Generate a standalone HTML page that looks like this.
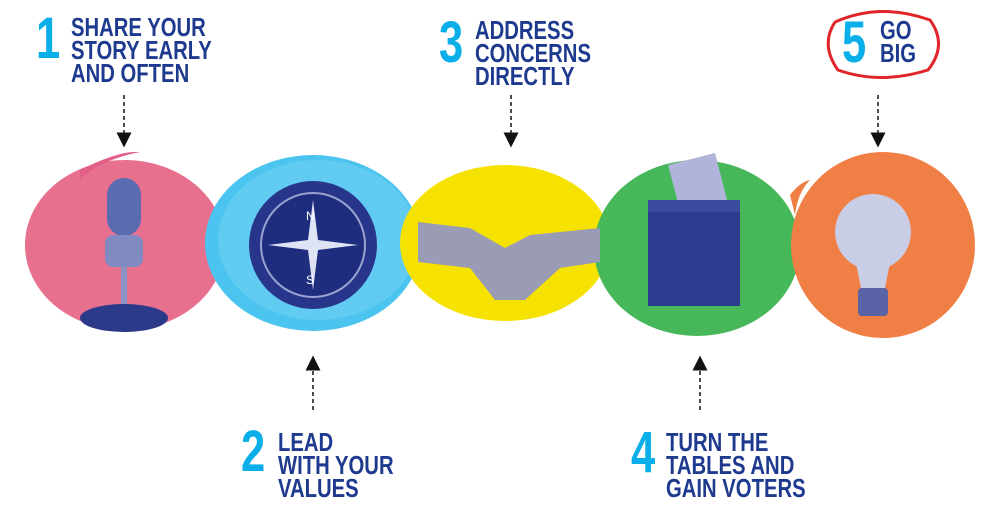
<!DOCTYPE html>
<html><head><meta charset="utf-8"><style>
body{margin:0;background:#fff;width:1004px;height:511px;overflow:hidden}
svg{display:block}
.t{font-family:"Liberation Sans",sans-serif;font-weight:bold;fill:#1e3a8f;font-size:26px}
.n{font-family:"Liberation Sans",sans-serif;font-weight:bold;fill:#0aaee8;font-size:58px}
</style></head><body>
<svg width="1004" height="511" viewBox="0 0 1004 511">
<defs><marker id="a" markerWidth="10" markerHeight="10" refX="5" refY="5" orient="auto"><path d="M0,0L10,5L0,10z" fill="#111"/></marker></defs>
<ellipse cx="125" cy="245" rx="100" ry="85" fill="#e8708f"/>
<path d="M80,170 Q120,150 140,152 Q100,160 80,180z" fill="#e25f86"/>
<ellipse cx="313" cy="243" rx="108" ry="88" fill="#4cc4f0"/>
<ellipse cx="318" cy="240" rx="100" ry="80" fill="#6fd0f4" opacity=".6"/>
<ellipse cx="505" cy="243" rx="105" ry="78" fill="#f6e200"/>
<ellipse cx="697" cy="248" rx="103" ry="88" fill="#46b85a"/>
<ellipse cx="883" cy="245" rx="92" ry="93" fill="#f07f45"/>
<path d="M790,195 Q800,182 810,180 Q798,192 795,215z" fill="#f07f45"/>
<rect x="107" y="178" width="34" height="58" rx="17" fill="#5a6bb0"/>
<rect x="105" y="235" width="38" height="32" rx="8" fill="#7f8ac0"/>
<rect x="121" y="267" width="6" height="40" fill="#8a93c4"/>
<ellipse cx="124" cy="318" rx="44" ry="14" fill="#2c3a8a"/>
<circle cx="313" cy="245" r="64" fill="#27358a"/>
<circle cx="313" cy="245" r="52" fill="#1e2d7e" stroke="#9aa3d0" stroke-width="2"/>
<path d="M313,200 L318,240 L358,245 L318,250 L313,290 L308,250 L268,245 L308,240z" fill="#dfe4f4"/>
<text x="306" y="220" fill="#fff" font-family="Liberation Sans" font-size="12">N</text>
<text x="306" y="284" fill="#fff" font-family="Liberation Sans" font-size="12">S</text>
<path d="M418,222 L470,228 L505,248 L530,235 L600,228 L600,262 L560,268 L525,300 L495,300 L470,268 L418,262z" fill="#9a9cb5"/>
<path d="M668,165 L715,153 L727,200 L680,210z" fill="#b0b4da"/>
<rect x="648" y="208" width="92" height="98" fill="#2e3c8f"/>
<rect x="648" y="200" width="92" height="12" fill="#3a4a9c"/>
<circle cx="873" cy="232" r="38" fill="#c9cde6"/>
<path d="M855,258 L891,258 L885,288 L861,288z" fill="#c9cde6"/>
<rect x="858" y="288" width="30" height="28" rx="4" fill="#5a63a8"/>
<g stroke="#111" stroke-width="1.5" stroke-dasharray="4,3" fill="none">
<line x1="124" y1="95" x2="124" y2="140" marker-end="url(#a)"/>
<line x1="511" y1="95" x2="511" y2="140" marker-end="url(#a)"/>
<line x1="878" y1="95" x2="878" y2="140" marker-end="url(#a)"/>
<line x1="313" y1="410" x2="313" y2="363" marker-end="url(#a)"/>
<line x1="700" y1="410" x2="700" y2="363" marker-end="url(#a)"/>
</g>
<g transform="translate(36,0) scale(.75,1)"><text class="n" x="0" y="58">1</text></g>
<g transform="translate(71,0) scale(.78,1)"><text class="t" x="0" y="36">SHARE YOUR</text><text class="t" x="0" y="59">STORY EARLY</text><text class="t" x="0" y="82">AND OFTEN</text></g>
<g transform="translate(241,0) scale(.75,1)"><text class="n" x="0" y="471">2</text></g>
<g transform="translate(278,0) scale(.78,1)"><text class="t" x="0" y="451">LEAD</text><text class="t" x="0" y="474">WITH YOUR</text><text class="t" x="0" y="497">VALUES</text></g>
<g transform="translate(439,0) scale(.75,1)"><text class="n" x="0" y="62">3</text></g>
<g transform="translate(475,0) scale(.78,1)"><text class="t" x="0" y="39">ADDRESS</text><text class="t" x="0" y="62">CONCERNS</text><text class="t" x="0" y="85">DIRECTLY</text></g>
<g transform="translate(631,0) scale(.75,1)"><text class="n" x="0" y="472">4</text></g>
<g transform="translate(666,0) scale(.78,1)"><text class="t" x="0" y="451">TURN THE</text><text class="t" x="0" y="474">TABLES AND</text><text class="t" x="0" y="497">GAIN VOTERS</text></g>
<g transform="translate(842,0) scale(.75,1)"><text class="n" x="0" y="62">5</text></g>
<g transform="translate(880,0) scale(.78,1)"><text class="t" x="0" y="39">GO</text><text class="t" x="0" y="62">BIG</text></g>
<path d="M835,22 Q880,2 930,20 Q948,45 928,70 Q880,85 838,70 Q820,45 835,22" fill="none" stroke="#e0262a" stroke-width="3"/>
</svg>
</body></html>
